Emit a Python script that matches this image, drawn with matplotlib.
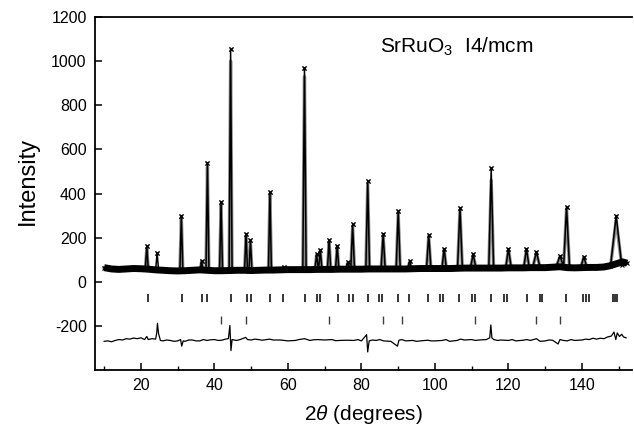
import matplotlib
matplotlib.use("Agg")
import matplotlib.pyplot as plt
import numpy as np

plt.rcParams["font.family"] = ["Liberation Sans", "DejaVu Sans"]
plt.rcParams["mathtext.fontset"] = "custom"
plt.rcParams["mathtext.rm"] = "Liberation Sans"
plt.rcParams["mathtext.it"] = "Liberation Sans:italic"
plt.rcParams["axes.unicode_minus"] = False

# observed background (2theta, counts)
bg_x = [10, 12, 14, 16, 18, 20, 22, 24, 26, 28, 30, 32, 34, 36, 38, 40, 42, 44, 46,
        48, 50, 52, 54, 56, 58, 60, 62, 64, 66, 68, 70, 72, 74, 76, 78, 80, 82, 84,
        86, 88, 90, 92, 94, 96, 98, 100, 102, 104, 106, 108, 110, 112, 114, 116, 118,
        120, 122, 124, 126, 128, 130, 132, 134, 136, 138, 140, 142, 144, 146, 147.5,
        151, 152.3]
bg_y = [64, 58, 56, 58, 60, 59, 57, 54, 52, 50, 49, 50, 52, 54, 52, 50, 50, 51, 52,
        52, 51, 52, 53, 53, 54, 55, 55, 55, 55, 56, 56, 56, 57, 57, 57, 57, 58, 58,
        58, 58, 58, 58, 59, 60, 60, 60, 60, 60, 61, 62, 62, 62, 62, 62, 62,
        63, 63, 63, 64, 64, 64, 66, 68, 64, 63, 64, 65, 65, 67, 72,
        90, 84]

# Bragg peaks: position, observed top, calculated top, base level, half width at base
pk_pos = [21.6, 24.4, 31.0, 36.5, 38.1, 41.8, 44.4, 48.6, 49.8, 55.1, 58.8, 64.5,
          67.8, 68.8, 71.2, 73.4, 76.3, 77.6, 81.7, 85.9, 90.0, 93.1, 98.3, 102.5,
          106.8, 110.4, 115.3, 120.0, 124.9, 127.6, 134.0, 135.8, 140.5, 149.3]
pk_obs = [160, 130, 300, 95, 540, 360, 1055, 218, 188, 405, 68, 970,
          125, 145, 190, 164, 90, 260, 455, 218, 320, 92, 214, 150,
          336, 125, 515, 150, 150, 136, 118, 340, 114, 300]
pk_calc = [150, 55, 290, 90, 520, 350, 1000, 205, 180, 395, 62, 930,
           120, 140, 180, 158, 86, 250, 440, 210, 310, 88, 205, 145,
           325, 120, 460, 145, 145, 130, 112, 330, 110, 280]
pk_base = [58, 54, 49, 54, 53, 50, 50, 52, 51, 53, 54, 55,
           56, 56, 56, 56, 57, 57, 57, 58, 58, 58, 60, 60,
           61, 62, 62, 63, 63, 64, 68, 66, 64, 75]
pk_w = [0.4, 0.4, 0.4, 0.35, 0.4, 0.4, 0.4, 0.4, 0.4, 0.4, 0.45, 0.45,
        0.45, 0.45, 0.45, 0.45, 0.5, 0.5, 0.5, 0.55, 0.55, 0.55, 0.6, 0.6,
        0.65, 0.75, 0.65, 0.75, 0.75, 1.0, 1.0, 0.8, 0.85, 1.5]

# reflection markers, main phase and second phase
hkl1 = [21.8, 31.2, 36.6, 38.0, 44.5, 48.8, 49.9, 55.1, 58.7, 64.7, 67.9, 68.7,
        73.6, 76.5, 77.6, 81.85, 84.8, 85.5, 89.85, 93.0, 98.2, 101.5, 102.3,
        106.45, 110.0, 110.9, 115.2, 118.8, 119.5, 124.95, 128.6, 129.05, 135.65,
        140.2, 141.1, 142.0, 148.5, 148.9, 149.4]
hkl2 = [41.8, 48.6, 71.2, 85.9, 90.9, 110.9, 127.5, 134.0]

# difference curve (obs - calc, shifted)
diff_x = [10, 11, 12, 13, 14, 15, 16, 17, 18, 19, 20, 21, 21.6, 22, 23, 24, 24.3,
          24.5, 24.8, 25.3, 26, 27, 28, 29, 30, 30.8, 31.1, 31.5, 32, 33, 34, 35,
          36, 37, 38, 39, 40, 41, 42, 43, 43.8, 44.2, 44.5, 44.8, 46, 47, 48.5,
          49, 50, 51, 52, 53, 55, 56, 58, 60, 62, 63, 64.5, 66, 67, 68, 70, 72,
          73, 74, 76, 78, 79, 80, 81.4, 81.7, 82.1, 83, 84, 85, 86, 88, 89.8,
          90.2, 91, 92, 94, 95, 96, 98, 99, 100, 102, 103, 104, 106, 107, 108,
          110, 111, 112, 114, 114.9, 115.2, 115.5, 116, 117, 118, 120, 121, 122,
          124, 125, 126, 127.6, 128.6, 130, 131, 132, 133.5, 134, 135, 136, 137,
          138, 140, 141, 142, 143, 144, 145, 146, 147, 148, 148.7, 149.2, 149.6,
          150.2, 150.8, 151.3, 152]
diff_y = [-270, -268, -272, -266, -262, -264, -258, -260, -255, -258, -254, -262,
          -248, -262, -258, -260, -232, -188, -235, -266, -268, -264, -266, -270,
          -268, -262, -292, -268, -270, -264, -264, -268, -268, -262, -266, -263,
          -262, -266, -265, -260, -258, -198, -312, -262, -266, -262, -252, -262,
          -264, -260, -262, -265, -260, -264, -264, -268, -266, -262, -258, -266,
          -263, -262, -264, -262, -267, -266, -265, -266, -262, -268, -240, -318,
          -268, -264, -266, -262, -268, -270, -292, -265, -262, -268, -266, -270,
          -268, -265, -268, -268, -266, -262, -270, -266, -260, -264, -262, -266,
          -264, -262, -254, -196, -255, -262, -266, -264, -266, -262, -268, -265,
          -262, -266, -258, -270, -268, -264, -265, -282, -262, -266, -268, -262,
          -266, -264, -260, -262, -256, -260, -256, -258, -250, -246, -228, -262,
          -232, -248, -238, -250, -254]


def profile(heights):
    xs = list(bg_x)
    ys = list(bg_y)
    keep = [True] * len(xs)
    for p, w in zip(pk_pos, pk_w):
        for i, x in enumerate(xs):
            if abs(x - p) <= w:
                keep[i] = False
    xs = [x for x, k in zip(xs, keep) if k]
    ys = [y for y, k in zip(ys, keep) if k]
    for p, h, b, w in zip(pk_pos, heights, pk_base, pk_w):
        xs += [p - w, p, p + w]
        ys += [b, h, b]
    order = np.argsort(xs)
    return np.array(xs)[order], np.array(ys)[order]


fig = plt.figure(figsize=(6.34, 4.30), dpi=100)
ax = fig.add_axes([0.1498, 0.1395, 0.847, 0.821])

ox, oy = profile(pk_obs)
cx, cy = profile(pk_calc)

ax.plot(cx, cy, color="0.55", lw=2.4)
# dense noisy band of the observed background points
ax.plot(bg_x, bg_y, color="black", lw=5, solid_capstyle="butt")
ax.plot(ox, oy, color="black", lw=1.1, marker="x", ms=2.5, mew=0.8)
ax.plot(pk_pos, pk_obs, ls="none", marker="x", ms=3, mew=0.8, color="black")

ax.plot(hkl1, [-75] * len(hkl1), ls="none", marker="|", ms=5.5, mew=1.1, color="black")
ax.plot(hkl2, [-175] * len(hkl2), ls="none", marker="|", ms=5.5, mew=1.0, color="0.25")

ax.plot(diff_x, diff_y, color="black", lw=0.9)

ax.text(85, 1040, r"SrRuO$_3$  I4/mcm", fontsize=15, va="baseline", ha="left")

ax.set_xlim(7.5, 153.6)
ax.set_ylim(-400, 1200)
ax.set_xticks([20, 40, 60, 80, 100, 120, 140])
ax.set_xticks([10, 30, 50, 70, 90, 110, 130, 150], minor=True)
ax.set_yticks([-200, 0, 200, 400, 600, 800, 1000, 1200])
ax.tick_params(axis="x", direction="in", length=5, width=1.1, labelsize=11.5, pad=6)
ax.tick_params(axis="x", which="minor", direction="in", length=3, width=1.0)
ax.tick_params(axis="y", direction="in", length=5, width=1.1, labelsize=11.5, pad=6)

for s in ["left", "bottom", "top"]:
    ax.spines[s].set_linewidth(1.3)
ax.spines["right"].set_visible(False)

ax.set_xlabel(r"2$\it{\theta}$ (degrees)", fontsize=15, labelpad=7)
ax.set_ylabel("Intensity", fontsize=17)
ax.yaxis.set_label_coords(-0.104, 0.535)

fig.savefig("out.png", dpi=100)
